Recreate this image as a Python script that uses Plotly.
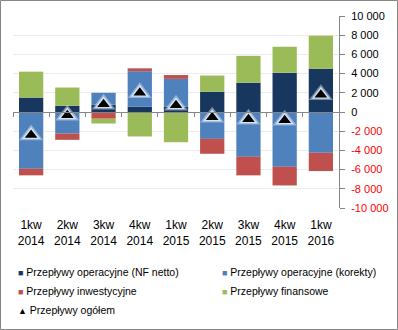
import plotly.graph_objects as go

categories = ["1kw<br>2014", "2kw<br>2014", "3kw<br>2014", "4kw<br>2014", "1kw<br>2015",
              "2kw<br>2015", "3kw<br>2015", "4kw<br>2015", "1kw<br>2016"]
nf_netto = [1500, 650, 750, 550, 550, 2100, 3050, 4100, 4500]
korekty = [-5900, -2250, 1250, 3700, 2900, -2800, -4650, -5700, -4250]
inwestycyjne = [-700, -650, -700, 300, 400, -1550, -1950, -1950, -1900]
finansowe = [2700, 1900, -500, -2550, -3150, 1700, 2800, 2700, 3450]
ogolem = [-2400, -350, 800, 2000, 700, -550, -750, -850, 1800]

names = ["Przepływy operacyjne (NF netto)", "Przepływy operacyjne (korekty)",
         "Przepływy inwestycyjne", "Przepływy finansowe", "Przepływy ogółem"]
colors = ["#17375E", "#4F81BD", "#C0504D", "#9BBB59", "#000000"]

tick_vals = list(range(-10000, 10001, 2000))

def fmt(v):
    s = f"{abs(v):,}".replace(",", " ")
    if v < 0:
        return f'<span style="color:#FF0000">-{s}</span>'
    return s

tick_text = [fmt(v) for v in tick_vals]

W, H = 398, 330
ML, MR, MT, MB = 13, 59, 16, 122
PW, PH = W - ML - MR, H - MT - MB

def px2x(px):
    return (px - ML) / PW

def py2y(py):
    return (H - MB - py) / PH

fig = go.Figure()
series = [nf_netto, korekty, inwestycyjne, finansowe]
for vals, nm, col in zip(series, names[:4], colors[:4]):
    fig.add_trace(go.Bar(x=categories, y=vals, name=nm, marker=dict(color=col, line=dict(width=0)),
                         width=0.67, showlegend=False))

# glow + triangles
fig.add_trace(go.Scatter(x=categories, y=ogolem, mode="markers", showlegend=False,
                         marker=dict(symbol="triangle-up", size=21, color="rgba(215,226,243,0.5)", line=dict(width=0))))
fig.add_trace(go.Scatter(x=categories, y=ogolem, mode="markers", showlegend=False,
                         marker=dict(symbol="triangle-up", size=16, color="rgba(228,236,248,0.85)", line=dict(width=0))))
fig.add_trace(go.Scatter(x=categories, y=ogolem, mode="markers", name=names[4], showlegend=False,
                         marker=dict(symbol="triangle-up", size=11, color="#000000", line=dict(width=0))))

# zero-line axis carrier
fig.add_trace(go.Scatter(x=[0], y=[0], xaxis="x2", mode="markers", marker=dict(opacity=0), showlegend=False,
                         hoverinfo="skip"))

# legend drawn as text annotations (2 columns)
legend_pos = [(16, 272), (220, 272), (16, 291), (220, 291), (16, 310)]
annotations = []
for i, (nm, col, (lx, ly)) in enumerate(zip(names, colors, legend_pos)):
    glyph = "▲" if i == 4 else "■"
    annotations.append(dict(
        xref="paper", yref="paper", x=px2x(lx), y=py2y(ly), xanchor="left", yanchor="middle",
        showarrow=False, align="left",
        text=f'<span style="color:{col};font-size:9px">{glyph}</span> {nm}',
        font=dict(size=10.5, color="#000000")))

font = "Liberation Sans"
fig.update_layout(
    width=W, height=H,
    margin=dict(l=ML, r=MR, t=MT, b=MB, autoexpand=False),
    paper_bgcolor="white", plot_bgcolor="white",
    barmode="relative", bargap=0.33,
    showlegend=False,
    font=dict(family=font, size=11, color="#000000"),
    xaxis=dict(type="category", range=[-0.5, 8.5], showline=False, showgrid=False, ticks="",
               tickfont=dict(size=12, color="#000000"), zeroline=False, ticklabelstandoff=8),
    xaxis2=dict(overlaying="x", anchor="free", position=0.5, range=[-0.5, 8.5], showline=True,
                linecolor="#868686", linewidth=1, ticks="outside", ticklen=4, tickcolor="#868686",
                tickvals=[i - 0.5 for i in range(10)], showticklabels=False, showgrid=False, zeroline=False),
    yaxis=dict(range=[-10000, 10000], side="right", tickvals=tick_vals, ticktext=tick_text,
               showgrid=True, gridcolor="#EBEBEB", gridwidth=1, zeroline=False,
               showline=True, linecolor="#868686", linewidth=1, ticks="outside", ticklen=5,
               tickcolor="#868686", tickfont=dict(size=11, color="#000000"), ticklabelstandoff=4),
    annotations=annotations,
    shapes=[dict(type="rect", xref="paper", yref="paper",
                 x0=-(ML - 0.5) / PW, x1=(W - ML - 0.5) / PW,
                 y0=-(MB - 0.5) / PH, y1=(H - MB - 0.5) / PH,
                 line=dict(color="#868686", width=1), layer="above")],
)

fig.write_html("out.html")
